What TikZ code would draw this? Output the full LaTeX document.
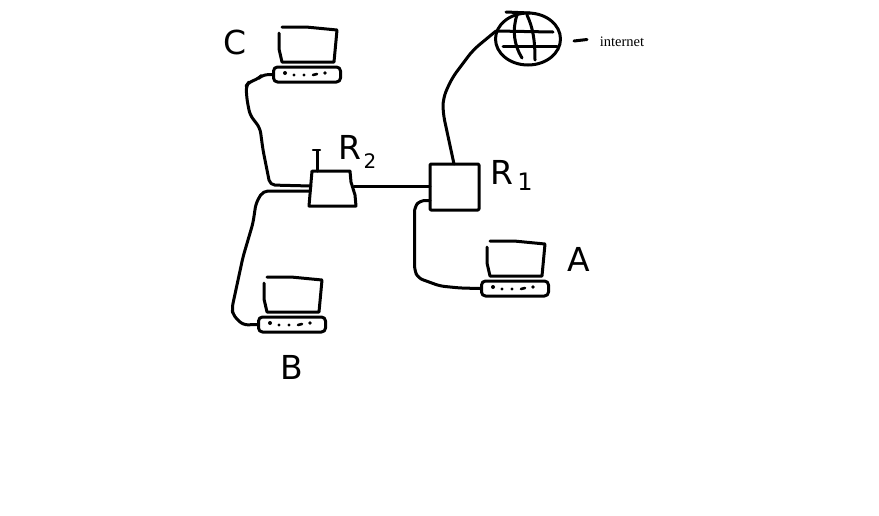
\documentclass[tikz,border=0pt]{standalone}
\usetikzlibrary{shapes.geometric}
\usepackage{fontspec}
\setmainfont{Liberation Serif}
\newfontfamily\handfont{DejaVu Sans}
\tikzset{
  ink/.style={line width=3pt,line cap=round,line join=round,black},
  wire/.style={ink,rounded corners=5pt},
  keyboard/.style={draw,ink,rounded corners=4pt,minimum width=67pt,minimum height=15pt,inner sep=0pt},
  routerbox/.style={draw,ink,rounded corners=1pt,minimum width=49pt,minimum height=46pt,inner sep=0pt},
  globeshape/.style={draw,ink,ellipse,minimum width=65pt,minimum height=52pt,inner sep=0pt},
  hand/.style={inner sep=0pt,font=\handfont\fontsize{33}{33}\selectfont},
  handsub/.style={inner sep=0pt,font=\handfont\fontsize{20}{20}\selectfont},
  anchorbox/.style={inner sep=0pt,minimum width=45pt,minimum height=35pt}
}
\newcommand{\drawlaptop}[3]{%
  \begin{scope}[shift={(#2,#3)}]
    \draw[ink] (9,-40) -- (33,-40) -- (64,-37) -- (61,-5) -- (9,-5) -- (6,-18) -- (6,-34);
    \node[keyboard] (#1) at (34,7.5) {};
    \fill (12,6) circle (2) (21,8) circle (1.7) (31,8) circle (1.7) (52,6) circle (1.9);
    \draw[ink,line width=2.6pt] (40,8) -- (44,7);
  \end{scope}}
\begin{document}
\begin{tikzpicture}[x=1pt,y=-1pt]
\useasboundingbox (0,0) rectangle (879,515);
\fill[white] (0,0) rectangle (879,515);

% laptops
\drawlaptop{C}{273}{67}
\drawlaptop{B}{258}{317}
\drawlaptop{A}{481}{281}

% router R2
\node[anchorbox] (R2) at (333,188) {};
\draw[ink] (312,171) -- (350,171) -- (351,182) -- (355,195) -- (356,206) -- (309,206) -- (312,171);
\coordinate (R2a) at (311,186);
\coordinate (R2b) at (310,191);
\coordinate (R2e) at (354,186);
\coordinate (ant) at (317,171);
\draw[ink] (ant) -- (317,151);
\draw[ink,line width=2.4pt] (313,150) -- (320,150);

% router R1
\node[routerbox] (R1) at (454.5,187) {};
\coordinate (R1w) at (430,186);
\coordinate (R1s) at (430,200.5);
\coordinate (R1t) at (454,164);

% globe
\node[globeshape] (globe) at (528,39) {};
\coordinate (globew) at (496,31);
\draw[ink] (506,12) -- (530,13);
\draw[ink] (globew) -- (553,32);
\draw[ink] (503,46) -- (557,46);
\draw[ink] (517,15) .. controls (512,30) and (514,45) .. (522,58);
\draw[ink] (527,15) .. controls (533,28) and (535,40) .. (535,60);

% internet label
\coordinate (dashA) at (574,41);
\coordinate (dashB) at (587,39.5);
\draw[ink] (dashA) -- (dashB);
\node[inner sep=0pt,font=\fontsize{14.5}{14.5}\selectfont] (inet) at (622,42) {internet};

% connectors
\draw[wire] (C.west) -- (262,75) -- (258,79) -- (249,82) -- (246,86) -- (247,100) -- (250,115) -- (260,128) -- (263,150) -- (267,170) -- (270,185) -- (R2a);
\draw[wire] (R2b) -- (263,191) -- (256,203) -- (253,223) -- (243,257) -- (232,308) -- (233,315) -- (243,325) -- (B.west);
\draw[ink] (R2e) -- (R1w);
\draw[wire] (R1s) -- (420,200.5) -- (414.5,207) -- (414.5,270) -- (418,278) -- (440,286) -- (460,288) -- (A.west);
\draw[wire,rounded corners=8pt] (R1t) -- (443,113) -- (443,98) -- (452,78) -- (473,50) -- (globew);

% hand labels
\node[hand] (lC) at (235,42) {C};
\node[hand] (lR2) at (350,147) {R};
\node[handsub] (lR2s) at (370,161) {2};
\node[hand] (lR1) at (502,172) {R};
\node[handsub,font=\handfont\fontsize{24}{24}\selectfont] (lR1s) at (525,182) {1};
\node[hand] (lA) at (579,259) {A};
\node[hand] (lB) at (292,367) {B};
\end{tikzpicture}
\end{document}
